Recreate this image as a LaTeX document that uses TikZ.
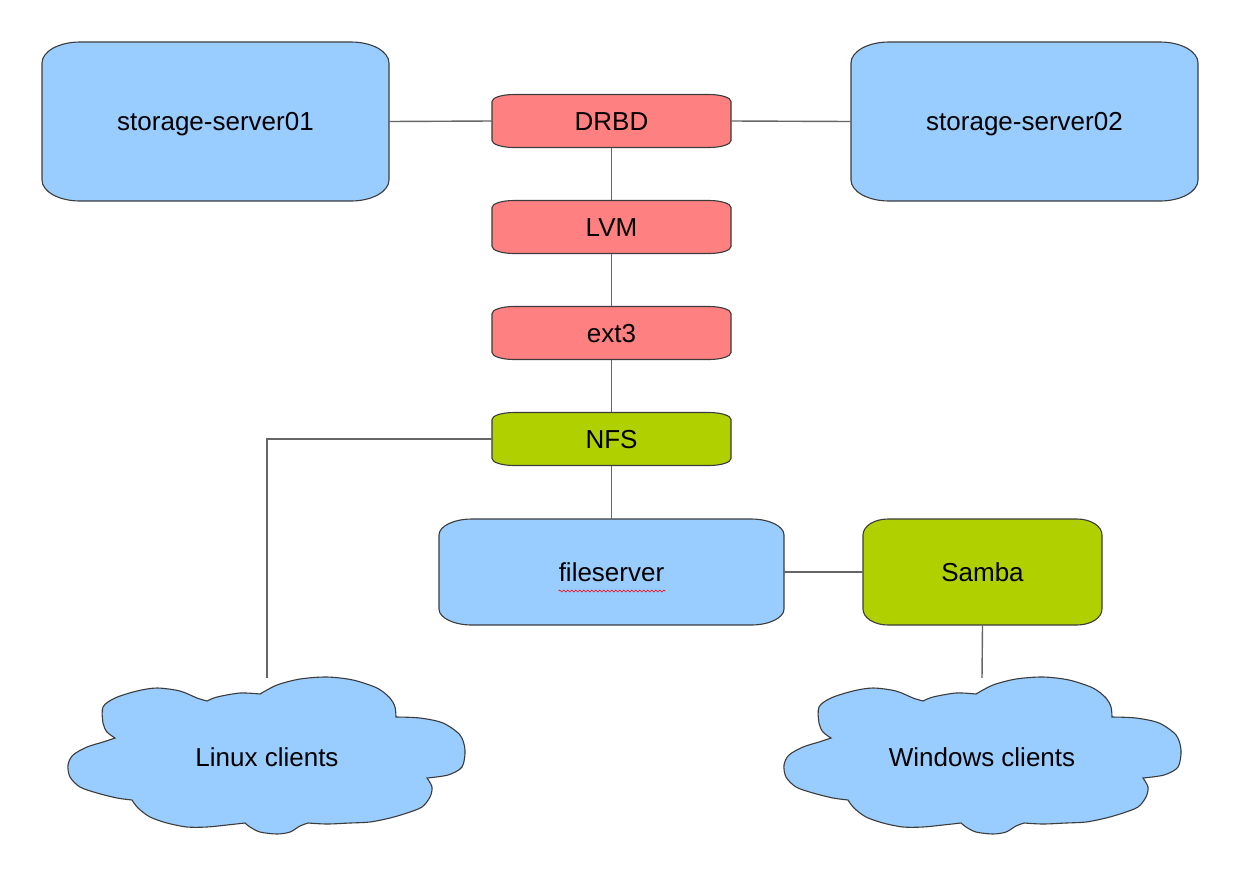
\documentclass[tikz,border=0pt]{standalone}
\usepackage{fontspec}
\setmainfont{Liberation Sans}
\usetikzlibrary{decorations.pathmorphing}
\definecolor{boxblue}{HTML}{99CCFF}
\definecolor{boxred}{HTML}{FF8080}
\definecolor{boxgreen}{HTML}{B0D000}
\definecolor{edgegray}{HTML}{3C3C3C}
\definecolor{linegray}{HTML}{666666}
\tikzset{
  shapeline/.style={draw=edgegray, line width=1.1pt},
  conn/.style={draw=linegray, line width=1.4pt},
  boxtext/.style={inner sep=0pt, font=\fontsize{26}{30}\selectfont, text=black,
    text height=18.6pt, text depth=0pt},
}
% name, cx, cy, w, h, rx, ry, fill, text
\newcommand\ebox[9]{%
  \path[shapeline, fill=#8] ({#2-#4/2+#6},{#3-#5/2}) -- ({#2+#4/2-#6},{#3-#5/2})
    arc[start angle=90, end angle=0, x radius=#6pt, y radius=#7pt]
    -- ({#2+#4/2},{#3+#5/2-#7})
    arc[start angle=0, end angle=-90, x radius=#6pt, y radius=#7pt]
    -- ({#2-#4/2+#6},{#3+#5/2})
    arc[start angle=-90, end angle=-180, x radius=#6pt, y radius=#7pt]
    -- ({#2-#4/2},{#3-#5/2+#7})
    arc[start angle=180, end angle=90, x radius=#6pt, y radius=#7pt]
    -- cycle;
  \node[boxtext, minimum width=#4pt, minimum height=#5pt] (#1) at (#2,#3) {#9};
}
\newcommand\cloudoutline{%
  plot[smooth] coordinates {(-152,-19) (-160,-25) (-164,-34) (-164,-50) (-152,-59) (-130,-66) (-110,-69) (-87,-66) (-70,-59) (-60,-56)}
  -- plot[smooth] coordinates {(-60,-56) (-50,-60) (-27,-64) (-7,-63)}
  -- plot[smooth] coordinates {(-7,-63) (10,-72) (33,-78) (60,-80) (86,-77) (110,-69) (123,-59) (128,-50) (129,-40)}
  -- plot[smooth] coordinates {(129,-40) (153,-39) (176,-34) (193,-22) (198,-7) (195,10) (181,18) (160,21)}
  -- plot[smooth] coordinates {(160,21) (165,30) (163,40) (155,50) (140,56) (123,61) (103,65) (83,66) (60,67) (41,66)}
  -- plot[smooth] coordinates {(41,66) (33,69) (23,75) (10,77) (-7,75) (-17,70) (-22,66)}
  -- plot[smooth] coordinates {(-22,66) (-40,68) (-60,70) (-80,70) (-100,66) (-117,60) (-129,51) (-135,43)}
  -- plot[smooth] coordinates {(-135,43) (-150,41) (-170,36) (-187,30) (-197,20) (-199,8) (-194,-2) (-180,-10) (-164,-15) (-152,-19)}
  -- cycle}
\begin{document}
\begin{tikzpicture}[x=1pt, y=-1pt]
\useasboundingbox (0,0) rectangle (1239,876);
\fill[white] (0,0) rectangle (1239,876);

\ebox{s1}{215.5}{121.5}{347}{159}{38}{21}{boxblue}{storage-server01}
\ebox{s2}{1024.5}{121.5}{347}{159}{38}{21}{boxblue}{storage-server02}
\ebox{drbd}{611.5}{121}{239}{53}{22}{7}{boxred}{DRBD}
\ebox{lvm}{611.5}{227}{239}{53}{22}{7}{boxred}{LVM}
\ebox{ext}{611.5}{333}{239}{53}{22}{7}{boxred}{ext3}
\ebox{nfs}{611.5}{439}{239}{53}{22}{7}{boxgreen}{NFS}
\ebox{fs}{611.5}{572}{345}{106}{33}{16}{boxblue}{fileserver}
\ebox{samba}{982.5}{572}{239}{106}{25}{16}{boxgreen}{Samba}

\begin{scope}[shift={(267,757)}]
  \path[shapeline, fill=boxblue] \cloudoutline;
\end{scope}
\begin{scope}[shift={(983,757)}]
  \path[shapeline, fill=boxblue] \cloudoutline;
\end{scope}
\node[boxtext, minimum width=398pt, minimum height=158pt] (lin) at (267,757) {Linux clients};
\node[boxtext, minimum width=398pt, minimum height=158pt] (win) at (982,757) {Windows clients};

\draw[red, line width=0.6pt, decorate, decoration={snake, amplitude=1pt, segment length=4pt}]
  ([shift={(-53,19)}]fs.center) -- ([shift={(54,19)}]fs.center);

\draw[conn] (s1.east) -- (drbd.west);
\draw[conn] (drbd.east) -- (s2.west);
\draw[conn] (drbd.south) -- (lvm.north);
\draw[conn] (lvm.south) -- (ext.north);
\draw[conn] (ext.south) -- (nfs.north);
\draw[conn] (nfs.west) -| (lin.north);
\draw[conn] (nfs.south) -- (fs.north);
\draw[conn] (fs.east) -- (samba.west);
\draw[conn] (samba.south) -- (win.north);
\end{tikzpicture}
\end{document}
